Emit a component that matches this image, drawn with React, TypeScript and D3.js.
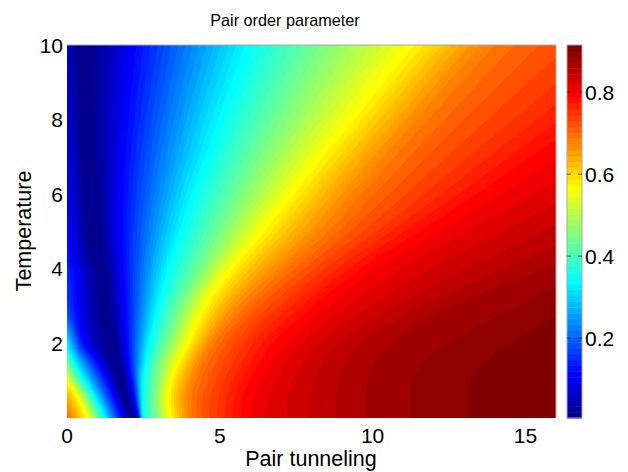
import React, { useMemo } from "react";
import * as d3 from "d3";

const temperature = [0, 0.5, 1, 1.5, 2, 3, 4, 5, 6, 7, 8, 9, 10];
// Value at zero tunneling for each row
const edgeValue = [0.70, 0.65, 0.56, 0.44, 0.33, 0.17, 0.14, 0.115, 0.10, 0.09, 0.08, 0.07, 0.065];
// Position of the zero of the order parameter
const dipValue = 0.006;
const dipX = [2.16, 1.95, 1.78, 1.62, 1.48, 1.27, 1.1, 0.87, 0.75, 0.65, 0.57, 0.49, 0.42];
// Contours left of the dip: tunneling at each temperature (-1: already off the plot)
const leftLevels = [0.12, 0.335, 0.566];
const left012 = [1.8, 1.55, 1.3, 0.98, 0.55, 0.3, 0.2, -1, -1, -1, -1, -1, -1];
const left0335 = [1.24, 0.95, 0.59, 0.25, -0.05, -1, -1, -1, -1, -1, -1, -1, -1];
const left0566 = [0.65, 0.38, -0.02, -0.5, -1, -1, -1, -1, -1, -1, -1, -1, -1];
const leftRows = [left012, left0335, left0566];
// Contours right of the dip (positions beyond 16 are outside the frame)
const rightLevels = [0.12, 0.335, 0.45, 0.566, 0.69, 0.75, 0.80, 0.858, 0.873, 0.887, 0.901, 0.913];
const right012 = [2.35, 2.22, 2.12, 2.03, 1.98, 1.93, 1.87, 1.83, 1.86, 1.92, 2.03, 2.15, 2.29];
const right0335 = [2.48, 2.47, 2.48, 2.57, 2.69, 2.97, 3.3, 3.7, 4.1, 4.55, 4.98, 5.43, 5.88];
const right045 = [2.95, 2.88, 2.95, 3.05, 3.3, 3.75, 4.4, 5.05, 5.7, 6.35, 7.05, 7.7, 8.4];
const right0566 = [3.37, 3.3, 3.4, 3.62, 3.93, 4.5, 5.35, 6.35, 7.3, 8.25, 9.25, 10.2, 11.2];
const right069 = [4.1, 4.1, 4.25, 4.5, 4.85, 5.85, 7.2, 8.6, 9.7, 10.8, 11.9, 13, 14.1];
const right075 = [5, 5.05, 5.25, 5.55, 5.9, 7.1, 8.6, 10.3, 11.9, 13.4, 14.9, 16.4, 17.9];
const right080 = [6, 6.05, 6.3, 6.65, 7.1, 8.5, 10.1, 12.1, 14.1, 16, 17.9, 19.7, 21.5];
const right0858 = [8.77, 8.77, 8.85, 9.1, 9.6, 11.6, 14.3, 17, 20, 23, 26, 29, 32];
const right0873 = [9.84, 9.84, 9.87, 10.1, 10.65, 12.7, 15.7, 18.7, 22, 25, 28.5, 32, 35.5];
const right0887 = [11.28, 11.28, 11.33, 11.7, 12.5, 14.8, 17.3, 20.5, 24, 28, 32, 36, 40];
const right0901 = [13.24, 13.24, 13.27, 13.7, 14.55, 16.7, 19.5, 23, 27, 31, 35, 39, 43];
const right0913 = [16, 16, 16.05, 16.4, 17.3, 20, 23, 27, 32, 37, 42, 47, 52];
const rightRows = [right012, right0335, right045, right0566, right069, right075, right080, right0858, right0873, right0887, right0901, right0913];

const xTicks = [0, 5, 10, 15];
const yTicks = [2, 4, 6, 8, 10];
const cTicks = [0.2, 0.4, 0.6, 0.8];
const valueMin = 0.005;
const valueMax = 0.915;
const levelCount = 64;
const title = "Pair order parameter";
const xLabel = "Pair tunneling";
const yLabel = "Temperature";

const L = 67, R = 556, T = 45, B = 418;
const CL = 567, CR = 582;
const FONT = "'Liberation Sans', Arial, sans-serif";

function jet(k: number): string {
  const u = (k + 1) / 64;
  const c = (a: number) => Math.round(255 * Math.max(0, Math.min(1, 1.5 - Math.abs(4 * u - a))));
  return `rgb(${c(3)},${c(2)},${c(1)})`;
}

// Monotone cubic through the read knots, used to raster them for d3.contours
function monotone(xs: number[], ys: number[]) {
  const n = xs.length;
  const d = d3.range(n - 1).map((i) => (ys[i + 1] - ys[i]) / (xs[i + 1] - xs[i]));
  const m = xs.map((_, i) => {
    if (i === 0) return d[0];
    if (i === n - 1) return d[n - 2];
    if (d[i - 1] * d[i] <= 0) return 0;
    const h0 = xs[i] - xs[i - 1], h1 = xs[i + 1] - xs[i];
    return (3 * (h0 + h1)) / ((2 * h1 + h0) / d[i - 1] + (h1 + 2 * h0) / d[i]);
  });
  return (x: number) => {
    const i = Math.max(0, Math.min(n - 2, d3.bisectRight(xs, x) - 1));
    const h = xs[i + 1] - xs[i], s = (x - xs[i]) / h;
    const s2 = s * s, s3 = s2 * s;
    return (2 * s3 - 3 * s2 + 1) * ys[i] + (s3 - 2 * s2 + s) * h * m[i] + (-2 * s3 + 3 * s2) * ys[i + 1] + (s3 - s2) * h * m[i + 1];
  };
}

export default function App() {
  const x = d3.scaleLinear().domain([0, 16]).range([L, R]);
  const y = d3.scaleLinear().domain([0, 10]).range([B, T]);
  const c = d3.scaleLinear().domain([valueMin, valueMax]).range([B, T]);
  const levels = d3.range(levelCount).map((i) => valueMin + ((valueMax - valueMin) * i) / levelCount);

  const paths = useMemo(() => {
    const nx = 490, ny = 374;
    const edgeFn = monotone(temperature, edgeValue);
    const dipFn = monotone(temperature, dipX);
    const leftFns = leftRows.map((r) => monotone(temperature, r));
    const rightFns = rightRows.map((r) => monotone(temperature, r));
    const values = new Array(nx * ny);
    for (let r = 0; r < ny; r++) {
      const t = 10 - (10 * r) / (ny - 1);
      const v0 = edgeFn(t);
      const dip = dipFn(t);
      const kx = [0], kv = [v0];
      const lefts = leftLevels
        .map((v, i) => ({ v, p: leftFns[i](t) }))
        .filter((e) => e.p > 0.03 && e.v < v0 - 0.005 && e.p < dip - 0.03)
        .reverse();
      for (const e of lefts) { kx.push(e.p); kv.push(e.v); }
      kx.push(dip); kv.push(dipValue);
      rightLevels.forEach((v, i) => { kx.push(rightFns[i](t)); kv.push(v); });
      const rowFn = monotone(kx, kv);
      for (let q = 0; q < nx; q++) values[r * nx + q] = rowFn((16 * q) / (nx - 1));
    }
    const contours = d3.contours().size([nx, ny]).smooth(true).thresholds(levels)(values);
    const gx = (v: number) => L + ((v - 0.5) / (nx - 1)) * (R - L);
    const gy = (v: number) => T + ((v - 0.5) / (ny - 1)) * (B - T);
    const path = d3.geoPath();
    return contours.map((g) => {
      const mapped = {
        type: "MultiPolygon",
        coordinates: g.coordinates.map((poly) => poly.map((ring) => ring.map(([a, b]) => [gx(a), gy(b)]))),
      };
      return path(mapped as any) || "";
    });
  }, []);

  const tick = { fontFamily: FONT, fontSize: 21, fill: "#000" } as const;
  const label = { fontFamily: FONT, fontSize: 21.5, fill: "#000" } as const;
  return (
    <svg width={628} height={472} style={{ position: "absolute", left: 0, top: 0, background: "#fff" }}>
      <defs>
        <clipPath id="plot"><rect x={L} y={T} width={R - L} height={B - T} /></clipPath>
      </defs>
      <g clipPath="url(#plot)">
        <rect x={L} y={T} width={R - L} height={B - T} fill={jet(0)} />
        {paths.map((d, i) => (
          <path key={i} d={d} fill={jet(i)} stroke="none" />
        ))}
      </g>
      <path d={`M${L},${T}H${R}V${B}`} fill="none" stroke="#a8a8a8" strokeWidth={1} />
      {levels.map((lv, i) => {
        const top = i === levelCount - 1 ? valueMax : levels[i + 1];
        return <rect key={i} x={CL} width={CR - CL} y={c(top)} height={c(lv) - c(top) + 0.5} fill={jet(i)} />;
      })}
      <rect x={CL} y={T} width={CR - CL} height={B - T} fill="none" stroke="#a8a8a8" strokeWidth={1} />
      {xTicks.map((v) => (
        <text key={v} x={x(v)} y={442.5} textAnchor="middle" {...tick}>{v}</text>
      ))}
      {yTicks.map((v) => (
        <text key={v} x={63} y={y(v) + 7.5} textAnchor="end" {...tick}>{v}</text>
      ))}
      {cTicks.map((v) => (
        <g key={v}>
          <path d={`M${CL},${c(v)}h4M${CR},${c(v)}h-4`} stroke="#222" strokeWidth={0.7} />
          <text x={585} y={c(v) + 7.5} {...tick}>{v.toFixed(1)}</text>
        </g>
      ))}
      <text x={311} y={466} textAnchor="middle" {...label}>{xLabel}</text>
      <text x={285} y={26} textAnchor="middle" fontFamily={FONT} fontSize={16.2}>{title}</text>
      <text transform={`translate(31,${231}) rotate(-90)`} textAnchor="middle" {...label}>{yLabel}</text>
    </svg>
  );
}
